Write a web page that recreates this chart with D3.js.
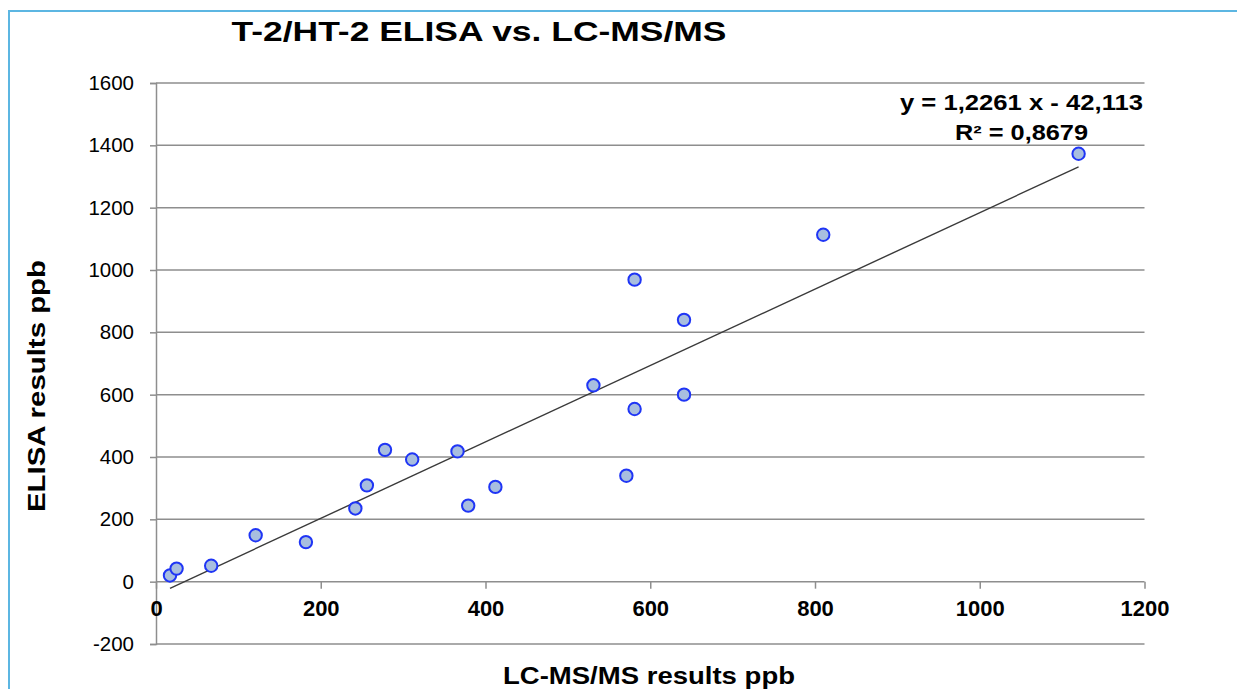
<!DOCTYPE html>
<html>
<head>
<meta charset="utf-8">
<script src="https://cdn.jsdelivr.net/npm/d3@7"></script>
<style>
  html, body { margin: 0; padding: 0; background: #ffffff; }
  svg { display: block; font-family: "Liberation Sans", Arial, sans-serif; }
</style>
</head>
<body>
<svg id="chart" width="1237" height="689"></svg>
<script>
// Paired measurements: LC-MS/MS (x) against ELISA (y), both in ppb
const lcmsValues  = [17, 25, 67, 121, 182, 242, 256, 278, 311, 366, 379, 412, 531, 571, 581, 581, 641, 641, 810, 1120];
const elisaValues = [20, 42, 51, 149, 127, 235, 309, 423, 392, 418, 244, 304, 630, 340, 969, 554, 840, 600, 1113, 1373];

// Linear trend line as reported on the chart
const trendSlope = 1.2261;
const trendIntercept = -42.113;
const trendLabels = ["y = 1,2261 x - 42,113", "R² = 0,8679"];

const xTicks = [0, 200, 400, 600, 800, 1000, 1200];
const yTicks = [-200, 0, 200, 400, 600, 800, 1000, 1200, 1400, 1600];

const titleText = "T-2/HT-2 ELISA vs. LC-MS/MS";
const xLabelText = "LC-MS/MS results ppb";
const yLabelText = "ELISA results ppb";

const svg = d3.select("#chart");

const x = d3.scaleLinear().domain([0, 1200]).range([156, 1144.5]);
const y = d3.scaleLinear().domain([-200, 1600]).range([644, 83]);

const gridColor = "#8e8e8e";
const plainNumber = d => String(d); // keeps an ASCII hyphen for negatives

// Outer frame (top and left edges)
svg.append("path")
  .attr("d", "M9,689 L9,11 L1237,11")
  .attr("fill", "none")
  .attr("stroke", "#5cb6e2")
  .attr("stroke-width", 2);

// Horizontal gridlines
svg.append("g")
  .selectAll("line")
  .data(yTicks)
  .join("line")
  .attr("x1", x(0))
  .attr("x2", x(1200))
  .attr("y1", d => y(d))
  .attr("y2", d => y(d))
  .attr("stroke", gridColor)
  .attr("stroke-width", 1.5);

// Y axis with ticks on the left
const yAxis = d3.axisLeft(y).tickValues(yTicks).tickSize(6).tickPadding(16).tickFormat(plainNumber);
const gy = svg.append("g").attr("transform", `translate(${x(0)},0)`).call(yAxis);
gy.select(".domain").attr("stroke", gridColor).attr("stroke-width", 1.5);
gy.selectAll(".tick line").attr("stroke", gridColor).attr("stroke-width", 1.5);
gy.selectAll(".tick text")
  .attr("fill", "#000")
  .style("font-size", "20.5px")
  .style("font-family", "'Liberation Sans', Arial, sans-serif");

// X axis crossing at y = 0, ticks pointing down
const xAxis = d3.axisBottom(x).tickValues(xTicks).tickSize(7).tickPadding(12).tickFormat(plainNumber);
const gx = svg.append("g").attr("transform", `translate(0,${y(0)})`).call(xAxis);
gx.select(".domain").remove();
gx.selectAll(".tick line").attr("stroke", gridColor).attr("stroke-width", 1.5);
gx.selectAll(".tick text")
  .attr("fill", "#000")
  .style("font-size", "22px")
  .style("font-weight", "bold")
  .style("font-family", "'Liberation Sans', Arial, sans-serif");

// Trend line over the range of the data
const xMin = d3.min(lcmsValues), xMax = d3.max(lcmsValues);
svg.append("line")
  .attr("x1", x(xMin))
  .attr("y1", y(trendSlope * xMin + trendIntercept))
  .attr("x2", x(xMax))
  .attr("y2", y(trendSlope * xMax + trendIntercept))
  .attr("stroke", "#3a3a3a")
  .attr("stroke-width", 1.4);

// Data points
const points = lcmsValues.map((v, i) => ({ lc: v, el: elisaValues[i] }));
svg.append("g")
  .selectAll("circle")
  .data(points)
  .join("circle")
  .attr("cx", d => x(d.lc))
  .attr("cy", d => y(d.el))
  .attr("r", 6.2)
  .attr("fill", "#a8bedf")
  .attr("stroke", "#1f35f5")
  .attr("stroke-width", 2);

// Trend equation and R²
svg.append("g")
  .selectAll("text")
  .data(trendLabels)
  .join("text")
  .attr("x", 1021.5)
  .attr("y", (d, i) => 110 + i * 29.5)
  .attr("text-anchor", "middle")
  .attr("textLength", (d, i) => i === 0 ? 243 : 133)
  .attr("lengthAdjust", "spacingAndGlyphs")
  .style("font-size", "21.5px")
  .style("font-weight", "bold")
  .text(d => d);

// Title
svg.append("text")
  .attr("x", 479)
  .attr("y", 41)
  .attr("text-anchor", "middle")
  .attr("textLength", 495)
  .attr("lengthAdjust", "spacingAndGlyphs")
  .style("font-size", "27px")
  .style("font-weight", "bold")
  .text(titleText);

// Axis titles
svg.append("text")
  .attr("x", 649)
  .attr("y", 684)
  .attr("text-anchor", "middle")
  .attr("textLength", 292)
  .attr("lengthAdjust", "spacingAndGlyphs")
  .style("font-size", "24.5px")
  .style("font-weight", "bold")
  .text(xLabelText);

svg.append("text")
  .attr("transform", "translate(45,386) rotate(-90)")
  .attr("text-anchor", "middle")
  .attr("textLength", 252)
  .attr("lengthAdjust", "spacingAndGlyphs")
  .style("font-size", "24.5px")
  .style("font-weight", "bold")
  .text(yLabelText);
</script>
</body>
</html>
